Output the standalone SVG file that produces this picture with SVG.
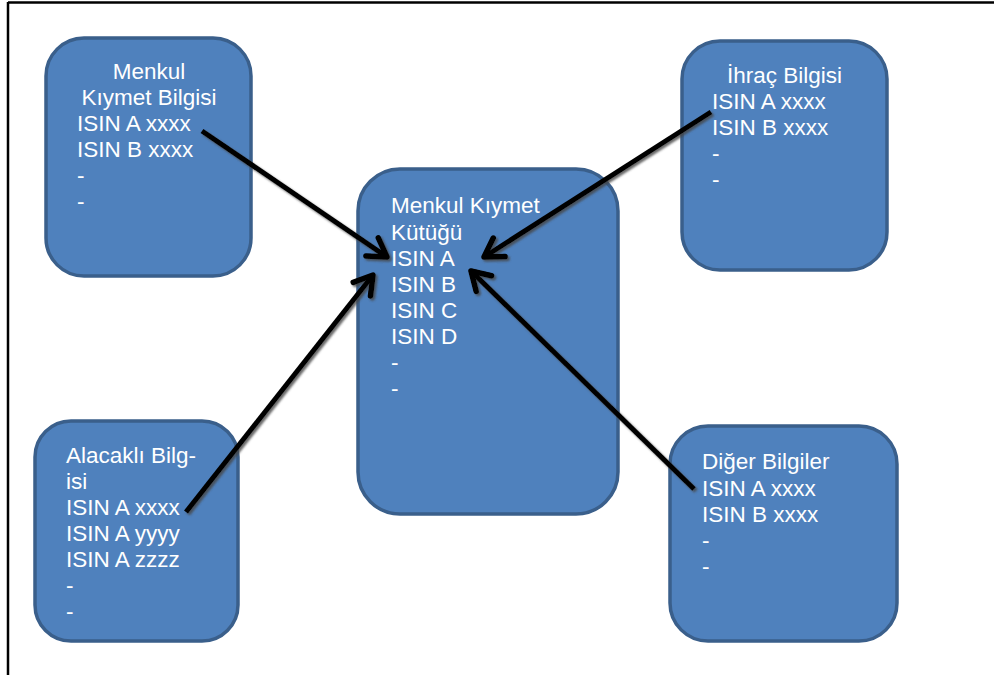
<svg xmlns="http://www.w3.org/2000/svg" width="994" height="675" viewBox="0 0 994 675">
<style>
.box{fill:#4F81BD;stroke:#3A5F8B;stroke-width:3.5}
.t{font-family:"Liberation Sans",Arial,sans-serif;font-size:22.5px;fill:#FFFFFF}
.frame{stroke:#000;stroke-width:2.5;fill:none}
.conn{stroke:#000;stroke-width:5;fill:none}
</style>
<defs>
<filter id="sh" x="-20%" y="-20%" width="140%" height="140%">
<feDropShadow dx="2" dy="2" stdDeviation="1" flood-color="#444" flood-opacity="0.8"/>
</filter>
<marker id="ah" markerUnits="userSpaceOnUse" markerWidth="30" markerHeight="30" viewBox="-22 -15 26 30" refX="0" refY="0" orient="auto">
<path d="M-18,-11 L0,0 L-18,11" fill="none" stroke="#000" stroke-width="5.5" stroke-linecap="round" stroke-linejoin="round"/>
</marker>
</defs>
<g id="frame">
<line class="frame" x1="8" y1="2.5" x2="994" y2="2.5"/>
<line class="frame" x1="8" y1="2" x2="8" y2="675"/>
</g>
<g id="node-menkul-kiymet-bilgisi">
<rect class="box" x="46" y="38" width="205" height="238" rx="38"/>
<text class="t" x="149" y="79" text-anchor="middle">Menkul</text>
<text class="t" x="149" y="105" text-anchor="middle">Kıymet Bilgisi</text>
<text class="t" x="77" y="131">ISIN A xxxx</text>
<text class="t" x="77" y="157">ISIN B xxxx</text>
<text class="t" x="77" y="183">-</text>
<text class="t" x="77" y="209">-</text>
</g>
<g id="node-kutuk">
<rect class="box" x="358" y="169" width="260" height="345" rx="42"/>
<text class="t" x="391" y="213">Menkul Kıymet</text>
<text class="t" x="391" y="240">Kütüğü</text>
<text class="t" x="391" y="266">ISIN A</text>
<text class="t" x="391" y="292">ISIN B</text>
<text class="t" x="391" y="318">ISIN C</text>
<text class="t" x="391" y="344">ISIN D</text>
<text class="t" x="391" y="370">-</text>
<text class="t" x="391" y="396">-</text>
</g>
<g id="node-ihrac">
<rect class="box" x="682" y="41" width="205" height="229" rx="38"/>
<text class="t" x="727" y="83">İhraç Bilgisi</text>
<text class="t" x="712" y="109">ISIN A xxxx</text>
<text class="t" x="712" y="135">ISIN B xxxx</text>
<text class="t" x="712" y="161">-</text>
<text class="t" x="712" y="187">-</text>
</g>
<g id="node-alacakli">
<rect class="box" x="35" y="421" width="203" height="220" rx="36"/>
<text class="t" x="66" y="463">Alacaklı Bilg-</text>
<text class="t" x="66" y="489">isi</text>
<text class="t" x="66" y="515">ISIN A xxxx</text>
<text class="t" x="66" y="541">ISIN A yyyy</text>
<text class="t" x="66" y="567">ISIN A zzzz</text>
<text class="t" x="66" y="593">-</text>
<text class="t" x="66" y="619">-</text>
</g>
<g id="node-diger">
<rect class="box" x="670" y="426" width="227" height="215" rx="38"/>
<text class="t" x="702" y="469">Diğer Bilgiler</text>
<text class="t" x="702" y="496">ISIN A xxxx</text>
<text class="t" x="702" y="522">ISIN B xxxx</text>
<text class="t" x="702" y="548">-</text>
<text class="t" x="702" y="574">-</text>
</g>
<g id="connectors" filter="url(#sh)">
<line class="conn" x1="202" y1="131" x2="387" y2="257" marker-end="url(#ah)"/>
<line class="conn" x1="711" y1="112" x2="484" y2="257" marker-end="url(#ah)"/>
<line class="conn" x1="186" y1="512" x2="373" y2="275" marker-end="url(#ah)"/>
<line class="conn" x1="694" y1="489" x2="471" y2="271" marker-end="url(#ah)"/>
</g>
</svg>
